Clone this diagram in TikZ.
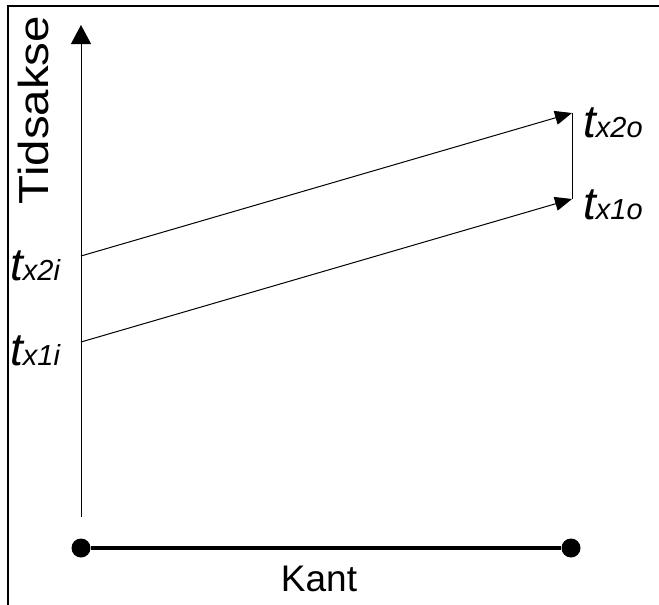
\documentclass[tikz,border=0pt]{standalone}
\usepackage{fontspec}
\setmainfont{Liberation Sans}
\usetikzlibrary{arrows.meta}
\tikzset{
  thin line/.style={line width=1pt},
  flow/.style={thin line,-{Triangle[length=17pt,width=14pt]}},
  lbl/.style={inner sep=0pt,anchor=base west},
  dot/.style={circle,fill=black,inner sep=0pt,minimum size=19pt}
}
\newcommand{\tlab}[1]{{\fontsize{46}{46}\selectfont\itshape t}{\fontsize{29}{29}\selectfont\itshape #1}}
\begin{document}
\begin{tikzpicture}[x=1pt,y=-1pt]
\useasboundingbox (0,0) rectangle (659,605);
% frame (left and top edges only visible)
\draw[line width=2.5pt] (8,610) -- (8,6) -- (665,6);
% time axis
\coordinate (axbot) at (81,517);
\coordinate (axtop) at (81,25);
\draw[thin line,-{Triangle[length=19pt,width=20pt]}] (axbot) -- (axtop);
\node[rotate=90,inner sep=0pt,xscale=1.13] (tidsakse) at (33,110) {\fontsize{42}{42}\selectfont Tidsakse};
% transitions
\coordinate (x2i) at (81,256);
\coordinate (x1i) at (81,342);
\coordinate (x2o) at (572,113);
\coordinate (x1o) at (572,199);
\draw[flow] (x2i) -- (x2o);
\draw[flow] (x1i) -- (x1o);
\draw[thin line] (x2o) -- (x1o);
\node[lbl] (lx2i) at (10,280) {\tlab{x2i}};
\node[lbl] (lx1i) at (10,365) {\tlab{x1i}};
\node[lbl] (lx2o) at (583,137) {\tlab{x2o}};
\node[lbl] (lx1o) at (583,219) {\tlab{x1o}};
% edge
\node[dot] (va) at (81,548) {};
\node[dot] (vb) at (571,548) {};
\draw[line width=4pt] (va) -- (vb);
\node[inner sep=0pt,anchor=base] (kant) at (319,591) {\fontsize{37}{37}\selectfont Kant};
\end{tikzpicture}
\end{document}
